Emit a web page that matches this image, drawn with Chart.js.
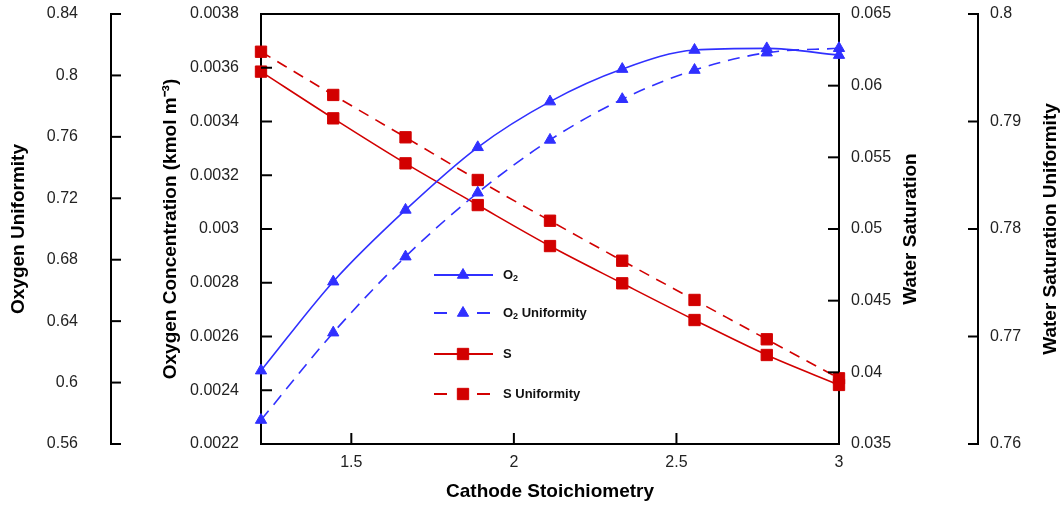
<!DOCTYPE html>
<html>
<head>
<meta charset="utf-8">
<script src="https://cdn.jsdelivr.net/npm/chart.js@4.4.1/dist/chart.umd.min.js"></script>
<style>
html, body { margin: 0; padding: 0; background: #fff; }
#wrap { width: 1063px; height: 508px; }
</style>
</head>
<body>
<div id="wrap"><canvas id="stoichChart" width="1063" height="508"></canvas></div>
<script>
// cathode stoichiometry points
const stoich = [1.2222, 1.4444, 1.6667, 1.8889, 2.1111, 2.3333, 2.5556, 2.7778, 3.0];
const o2Conc = [0.002473, 0.002804, 0.003071, 0.003304, 0.003474, 0.003595, 0.003666, 0.003672, 0.003647];
const o2Unif = [0.5756, 0.6325, 0.682, 0.7236, 0.758, 0.7845, 0.8035, 0.8148, 0.8177];
const waterSat = [0.06098, 0.05772, 0.05458, 0.05167, 0.04881, 0.04621, 0.04365, 0.04121, 0.03912];
const waterSatUnif = [0.79649, 0.79247, 0.78853, 0.78456, 0.78077, 0.77705, 0.7734, 0.76974, 0.76611];

const xTicks = [1.5, 2, 2.5, 3];
const o2UnifTicks = [0.56, 0.6, 0.64, 0.68, 0.72, 0.76, 0.8, 0.84];
const o2ConcTicks = [0.0022, 0.0024, 0.0026, 0.0028, 0.003, 0.0032, 0.0034, 0.0036, 0.0038];
const waterSatTicks = [0.035, 0.04, 0.045, 0.05, 0.055, 0.06, 0.065];
const waterSatUnifTicks = [0.76, 0.77, 0.78, 0.79, 0.8];

const BLUE = '#3030ff';
const RED = '#d20000';
const FONT = '"Liberation Sans", Arial, sans-serif';

const pts = arr => arr.map((v, i) => ({ x: stoich[i], y: v }));
const fmt = v => String(parseFloat(Number(v).toFixed(6)));
const setTicks = list => s => { s.ticks = list.map(v => ({ value: v })); };

function yScale(pos, weight, min, max, list, width, pad, title, titlePad) {
    return {
        type: 'linear', position: pos, weight: weight, min: min, max: max,
        afterBuildTicks: setTicks(list),
        afterFit: s => { s.width = width; s.paddingTop = 0; s.paddingBottom = 0; },
        grid: { display: false, drawTicks: false },
        border: { color: '#000', width: 2 },
        ticks: { padding: pad, color: '#222', font: { family: FONT, size: 16 }, callback: fmt, autoSkip: false },
        title: title ? { display: true, text: title, color: '#000', font: { family: FONT, size: 19, weight: 'bold' }, padding: { top: titlePad, bottom: 0 } } : { display: false }
    };
}

// inward tick marks, top frame, right titles and the legend
const decor = {
    id: 'decor',
    afterDraw(chart) {
        const ctx = chart.ctx;
        const a = chart.chartArea;
        const sc = chart.scales;
        ctx.save();
        ctx.strokeStyle = '#000';
        ctx.lineWidth = 2;
        ctx.beginPath();
        ctx.moveTo(a.left - 1, a.top);
        ctx.lineTo(a.right + 1, a.top);
        ctx.stroke();

        const marks = [
            [sc.yO2U, sc.yO2U.right, 10],
            [sc.yO2, sc.yO2.right, 11],
            [sc.yWS, sc.yWS.left, -11],
            [sc.yWSU, sc.yWSU.left, -10]
        ];
        marks.forEach(([s, x0, len]) => {
            s.ticks.forEach(t => {
                const y = s.getPixelForValue(t.value);
                ctx.beginPath();
                ctx.moveTo(x0, y);
                ctx.lineTo(x0 + len, y);
                ctx.stroke();
            });
        });
        sc.x.ticks.forEach(t => {
            const x = sc.x.getPixelForValue(t.value);
            ctx.beginPath();
            ctx.moveTo(x, sc.x.top);
            ctx.lineTo(x, sc.x.top - 11);
            ctx.stroke();
        });

        // right-hand titles read bottom to top
        ctx.fillStyle = '#000';
        ctx.font = 'bold 19px ' + FONT;
        ctx.textAlign = 'center';
        ctx.textBaseline = 'middle';
        const cy = (a.top + a.bottom) / 2;
        [[sc.yWS.right - 67, 'Water Saturation'], [sc.yWSU.right - 12, 'Water Saturation Uniformity']].forEach(([x, txt]) => {
            ctx.save();
            ctx.translate(x, cy);
            ctx.rotate(-Math.PI / 2);
            ctx.fillText(txt, 0, 0);
            ctx.restore();
        });

        // legend
        const lx = a.left + 173;
        const rows = [a.top + 261, a.top + 299, a.top + 340, a.top + 380];
        const labels = [[['O'], ['2', 1]], [['O'], ['2', 1], [' Uniformity']], [['S']], [['S Uniformity']]];
        chart.data.datasets.forEach((ds, i) => {
            const y = rows[i];
            ctx.strokeStyle = ds.borderColor;
            ctx.fillStyle = ds.borderColor;
            ctx.lineWidth = 2;
            ctx.beginPath();
            if (ds.borderDash) {
                ctx.moveTo(lx, y); ctx.lineTo(lx + 13, y);
                ctx.moveTo(lx + 43, y); ctx.lineTo(lx + 56, y);
            } else {
                ctx.moveTo(lx, y); ctx.lineTo(lx + 59, y);
            }
            ctx.stroke();
            ctx.lineWidth = 1;
            Chart.helpers.drawPoint(ctx, { pointStyle: ds.pointStyle, radius: ds.pointRadius, borderWidth: 1 }, lx + 29, y);
            let tx = lx + 69;
            ctx.fillStyle = '#111';
            ctx.textAlign = 'left';
            ctx.textBaseline = 'middle';
            labels[i].forEach(([txt, sub]) => {
                ctx.font = 'bold ' + (sub ? 9 : 13) + 'px ' + FONT;
                ctx.fillText(txt, tx, sub ? y + 4 : y);
                tx += ctx.measureText(txt).width;
            });
        });
        ctx.restore();
    }
};

const ctx = document.getElementById('stoichChart').getContext('2d');
new Chart(ctx, {
    type: 'line',
    data: {
        datasets: [
            {
                label: 'O2', data: pts(o2Conc), yAxisID: 'yO2',
                borderColor: BLUE, backgroundColor: BLUE, borderWidth: 1.6,
                pointStyle: 'triangle', pointRadius: 6.5, pointBorderWidth: 1,
                cubicInterpolationMode: 'monotone', clip: false
            },
            {
                label: 'O2 Uniformity', data: pts(o2Unif), yAxisID: 'yO2U',
                borderColor: BLUE, backgroundColor: BLUE, borderWidth: 1.6, borderDash: [12, 8],
                pointStyle: 'triangle', pointRadius: 6.5, pointBorderWidth: 1,
                cubicInterpolationMode: 'monotone', clip: false
            },
            {
                label: 'S', data: pts(waterSat), yAxisID: 'yWS',
                borderColor: RED, backgroundColor: RED, borderWidth: 1.6,
                pointStyle: 'rect', pointRadius: 8, pointBorderWidth: 1,
                cubicInterpolationMode: 'monotone', clip: false
            },
            {
                label: 'S Uniformity', data: pts(waterSatUnif), yAxisID: 'yWSU',
                borderColor: RED, backgroundColor: RED, borderWidth: 1.6, borderDash: [11, 8],
                pointStyle: 'rect', pointRadius: 8, pointBorderWidth: 1,
                cubicInterpolationMode: 'monotone', clip: false
            }
        ]
    },
    options: {
        responsive: false,
        animation: false,
        layout: { padding: { top: 14, left: 0, right: 0, bottom: 0 } },
        plugins: { legend: { display: false }, tooltip: { enabled: false } },
        scales: {
            x: {
                type: 'linear', position: 'bottom', min: stoich[0], max: 3,
                afterBuildTicks: setTicks(xTicks),
                afterFit: s => { s.height = 64; s.paddingLeft = 0; s.paddingRight = 0; },
                grid: { display: false, drawTicks: false },
                border: { color: '#000', width: 2 },
                ticks: { padding: 9, color: '#222', font: { family: FONT, size: 16 }, callback: fmt, autoSkip: false, maxRotation: 0 },
                title: { display: true, text: 'Cathode Stoichiometry', color: '#000', font: { family: FONT, size: 19, weight: 'bold' }, padding: { top: 0, bottom: 5 } }
            },
            yO2U: yScale('left', 2, 0.56, 0.84, o2UnifTicks, 111, 33, 'Oxygen Uniformity', 7),
            yO2: yScale('left', 1, 0.0022, 0.0038, o2ConcTicks, 150, 22, 'Oxygen Concentration (kmol m\u207B\u00B3)', 48),
            yWS: yScale('right', 1, 0.035, 0.065, waterSatTicks, 139, 12, null, 0),
            yWSU: yScale('right', 2, 0.76, 0.8, waterSatUnifTicks, 85, 12, null, 0)
        }
    },
    plugins: [decor]
});
</script>
</body>
</html>
